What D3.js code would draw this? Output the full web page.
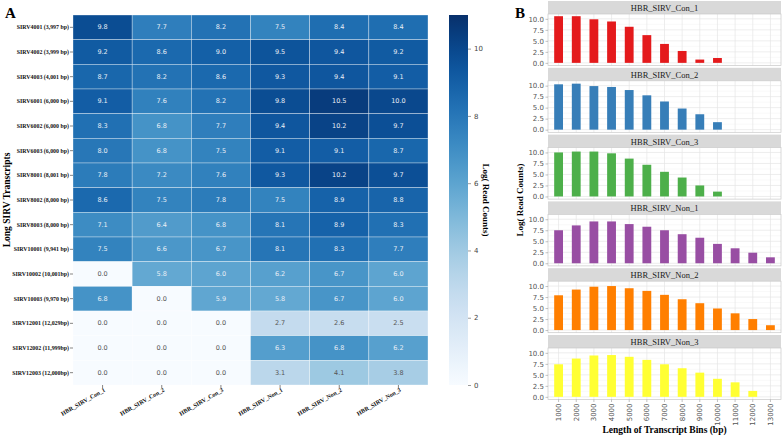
<!DOCTYPE html>
<html><head><meta charset="utf-8">
<script src="https://cdn.jsdelivr.net/npm/d3@7"></script>
<style>body{margin:0;background:#fff}svg{display:block}</style>
</head><body>
<script>
const samples = ["HBR_SIRV_Con_1","HBR_SIRV_Con_2","HBR_SIRV_Con_3","HBR_SIRV_Non_1","HBR_SIRV_Non_2","HBR_SIRV_Non_3"];
const transcripts = ["SIRV4001 (3,997 bp)","SIRV4002 (3,999 bp)","SIRV4003 (4,001 bp)","SIRV6001 (6,000 bp)","SIRV6002 (6,000 bp)","SIRV6003 (6,000 bp)","SIRV8001 (8,001 bp)","SIRV8002 (8,000 bp)","SIRV8003 (8,000 bp)","SIRV10001 (9,941 bp)","SIRV10002 (10,001bp)","SIRV10003 (9,970 bp)","SIRV12001 (12,029bp)","SIRV12002 (11,999bp)","SIRV12003 (12,000bp)"];
const heatValues = [
  [9.8,7.7,8.2,7.5,8.4,8.4],
  [9.2,8.6,9.0,9.5,9.4,9.2],
  [8.7,8.2,8.6,9.3,9.4,9.1],
  [9.1,7.6,8.2,9.8,10.5,10.0],
  [8.3,6.8,7.7,9.4,10.2,9.7],
  [8.0,6.8,7.5,9.1,9.1,8.7],
  [7.8,7.2,7.6,9.3,10.2,9.7],
  [8.6,7.5,7.8,7.5,8.9,8.8],
  [7.1,6.4,6.8,8.1,8.9,8.3],
  [7.5,6.6,6.7,8.1,8.3,7.7],
  [0.0,5.8,6.0,6.2,6.7,6.0],
  [6.8,0.0,5.9,5.8,6.7,6.0],
  [0.0,0.0,0.0,2.7,2.6,2.5],
  [0.0,0.0,0.0,6.3,6.8,6.2],
  [0.0,0.0,0.0,3.1,4.1,3.8]
];
const colorbarTicks = [0,2,4,6,8,10];
const bins = ["1000","2000","3000","4000","5000","6000","7000","8000","9000","10000","11000","12000","13000"];
const con1 = [10.6,10.6,9.9,9.4,8.2,6.3,4.3,2.7,0.75,1.1,0,0,0];
const con2 = [10.3,10.45,9.9,9.7,9.0,7.8,6.4,4.8,3.5,1.7,0,0,0];
const con3 = [10.0,10.2,10.2,9.8,8.6,7.2,5.6,4.3,2.5,1.1,0,0,0];
const non1 = [7.5,8.6,9.5,9.5,8.9,8.3,7.5,6.6,5.8,4.4,3.4,2.4,1.35];
const non2 = [7.9,9.2,9.85,10.0,9.5,8.9,8.0,7.0,6.1,4.9,3.8,2.5,1.1];
const non3 = [7.4,8.7,9.4,9.5,9.1,8.4,7.4,6.5,5.5,4.1,3.3,1.35,0];
const facetSeries = [con1,con2,con3,non1,non2,non3];
const facetColors = ["#E41A1C","#377EB8","#4DAF4A","#984EA3","#FF7F00","#FFFF33"];
const barTicks = [0,2.5,5,7.5,10];

const W=784,H=437;
const svg=d3.select("body").append("svg").attr("width",W).attr("height",H);
const serif="'Liberation Serif','Times New Roman',serif";
const sans="'DejaVu Sans',sans-serif";

// ---------- Panel A ----------
svg.append("text").attr("x",5).attr("y",18).text("A").attr("font-family",serif).attr("font-weight","bold").attr("font-size",15);
const hx=d3.scaleBand().domain(samples).range([73,428]);
const hy=d3.scaleBand().domain(transcripts).range([15,385]);
const cmax=11;
const color=d3.scaleSequential(d3.interpolateBlues).domain([0,cmax]);
const cells=[];
transcripts.forEach((t,i)=>samples.forEach((s,j)=>cells.push({t,s,v:heatValues[i][j]})));
const g=svg.append("g");
g.selectAll("rect").data(cells).join("rect")
 .attr("x",d=>hx(d.s)).attr("y",d=>hy(d.t)).attr("width",hx.bandwidth()).attr("height",hy.bandwidth())
 .attr("fill",d=>color(d.v)).attr("stroke","rgba(255,255,255,0.55)").attr("stroke-width",0.6);
g.selectAll("text").data(cells).join("text")
 .attr("x",d=>hx(d.s)+hx.bandwidth()/2).attr("y",d=>hy(d.t)+hy.bandwidth()/2)
 .attr("text-anchor","middle").attr("dominant-baseline","central")
 .attr("font-family",sans).attr("font-size",6.5)
 .attr("fill",d=>d.v>4.5?"#e8eef6":"#555")
 .text(d=>d.v.toFixed(1));
// row labels
const ya=svg.append("g");
transcripts.forEach(t=>{
  const y=hy(t)+hy.bandwidth()/2;
  ya.append("line").attr("x1",70).attr("x2",73).attr("y1",y).attr("y2",y).attr("stroke","#333").attr("stroke-width",0.6);
  ya.append("text").attr("x",69).attr("y",y).attr("text-anchor","end").attr("dominant-baseline","central")
   .attr("font-family",serif).attr("font-weight","bold").attr("font-size",5.9).attr("fill","#111").text(t);
});
samples.forEach(s=>{
  const x=hx(s)+hx.bandwidth()/2;
  ya.append("line").attr("x1",x).attr("x2",x).attr("y1",385).attr("y2",388).attr("stroke","#333").attr("stroke-width",0.6);
  ya.append("text").attr("transform",`translate(${x+3},${391}) rotate(-30)`).attr("text-anchor","end")
   .attr("font-family",serif).attr("font-weight","bold").attr("font-size",6).attr("fill","#111").text(s);
});
svg.append("text").attr("transform","translate(10,200) rotate(-90)").attr("text-anchor","middle")
 .attr("font-family",serif).attr("font-weight","bold").attr("font-size",9.5).text("Long SIRV Transcripts");
// colorbar
const defs=svg.append("defs");
const grad=defs.append("linearGradient").attr("id","cb").attr("x1",0).attr("y1",1).attr("x2",0).attr("y2",0);
d3.range(0,1.0001,0.05).forEach(f=>grad.append("stop").attr("offset",f).attr("stop-color",color(f*cmax)));
const cy=d3.scaleLinear().domain([0,cmax]).range([385,15]);
svg.append("rect").attr("x",449).attr("y",15).attr("width",19).attr("height",370).attr("fill","url(#cb)");
const cbAxis=d3.axisRight(cy).tickValues(colorbarTicks).tickSize(3).tickFormat(d3.format("d"));
const cba=svg.append("g").attr("transform","translate(468,0)").call(cbAxis);
cba.select(".domain").remove();
cba.selectAll("line").attr("stroke","#555").attr("stroke-width",0.6);
cba.selectAll("text").attr("font-family",sans).attr("font-size",7).attr("fill","#444").attr("x",6);
svg.append("text").attr("transform","translate(483,200) rotate(90)").attr("text-anchor","middle")
 .attr("font-family",serif).attr("font-weight","bold").attr("font-size",9).text("Log( Read Counts)");

// ---------- Panel B ----------
svg.append("text").attr("x",515).attr("y",18).text("B").attr("font-family",serif).attr("font-weight","bold").attr("font-size",15);
const px0=548, px1=781;
const bx=d3.scaleBand().domain(bins).range([px0,px1]).paddingInner(0).paddingOuter(0.1);
const period=66.8, stripH=13, panelH=51.5;
facetSeries.forEach((vals,k)=>{
  const top=1+k*period;
  const ptop=top+stripH, pbot=ptop+panelH;
  const by=d3.scaleLinear().domain([-0.6,11.1]).range([pbot,ptop]);
  const fg=svg.append("g");
  fg.append("rect").attr("x",px0).attr("y",top).attr("width",px1-px0).attr("height",stripH).attr("fill","#D9D9D9");
  fg.append("text").attr("x",(px0+px1)/2).attr("y",top+stripH/2+0.5).attr("text-anchor","middle").attr("dominant-baseline","central")
   .attr("font-family",serif).attr("font-size",8.5).attr("fill","#1a1a1a").text(samples[k]);
  fg.append("rect").attr("x",px0).attr("y",ptop).attr("width",px1-px0).attr("height",panelH).attr("fill","#fff");
  [1.25,3.75,6.25,8.75].forEach(v=>fg.append("line").attr("x1",px0).attr("x2",px1).attr("y1",by(v)).attr("y2",by(v)).attr("stroke","#F2F2F2").attr("stroke-width",0.5));
  barTicks.forEach(v=>fg.append("line").attr("x1",px0).attr("x2",px1).attr("y1",by(v)).attr("y2",by(v)).attr("stroke","#E5E5E5").attr("stroke-width",0.7));
  bins.forEach(b=>{const x=bx(b)+bx.bandwidth()/2;fg.append("line").attr("x1",x).attr("x2",x).attr("y1",ptop).attr("y2",pbot).attr("stroke","#E5E5E5").attr("stroke-width",0.7);});
  fg.selectAll("rect.bar").data(bins.map((b,i)=>({b,v:vals[i]})).filter(d=>d.v>0)).join("rect").attr("class","bar")
   .attr("x",d=>bx(d.b)+bx.bandwidth()*0.25).attr("width",bx.bandwidth()*0.5)
   .attr("y",d=>by(d.v)).attr("height",d=>by(0)-by(d.v)).attr("fill",facetColors[k]);
  fg.append("rect").attr("x",px0).attr("y",ptop).attr("width",px1-px0).attr("height",panelH).attr("fill","none").attr("stroke","#C8C8C8").attr("stroke-width",0.7);
  const ax=d3.axisLeft(by).tickValues(barTicks).tickSize(2.5).tickFormat(d3.format(".1f"));
  const ag=fg.append("g").attr("transform",`translate(${px0},0)`).call(ax);
  ag.select(".domain").remove();
  ag.selectAll("line").attr("stroke","#999").attr("stroke-width",0.6);
  ag.selectAll("text").attr("font-family",sans).attr("font-size",7).attr("fill","#555").attr("x",-4);
  if(k===5){
    const xa=d3.axisBottom(bx).tickSize(2.5);
    const xg=fg.append("g").attr("transform",`translate(0,${pbot})`).call(xa);
    xg.select(".domain").remove();
    xg.selectAll("line").attr("stroke","#999").attr("stroke-width",0.6);
    xg.selectAll("text").attr("font-family",sans).attr("font-size",7).attr("fill","#555")
      .attr("transform","rotate(-90)").attr("text-anchor","end").attr("x",-4).attr("y",0).attr("dy","0.35em");
  }
});
svg.append("text").attr("transform","translate(523,200) rotate(-90)").attr("text-anchor","middle")
 .attr("font-family",serif).attr("font-weight","bold").attr("font-size",9).text("Log( Read Counts)");
svg.append("text").attr("x",(px0+px1)/2).attr("y",433).attr("text-anchor","middle")
 .attr("font-family",serif).attr("font-weight","bold").attr("font-size",9.5).text("Length of Transcript Bins (bp)");
</script>
</body></html>
